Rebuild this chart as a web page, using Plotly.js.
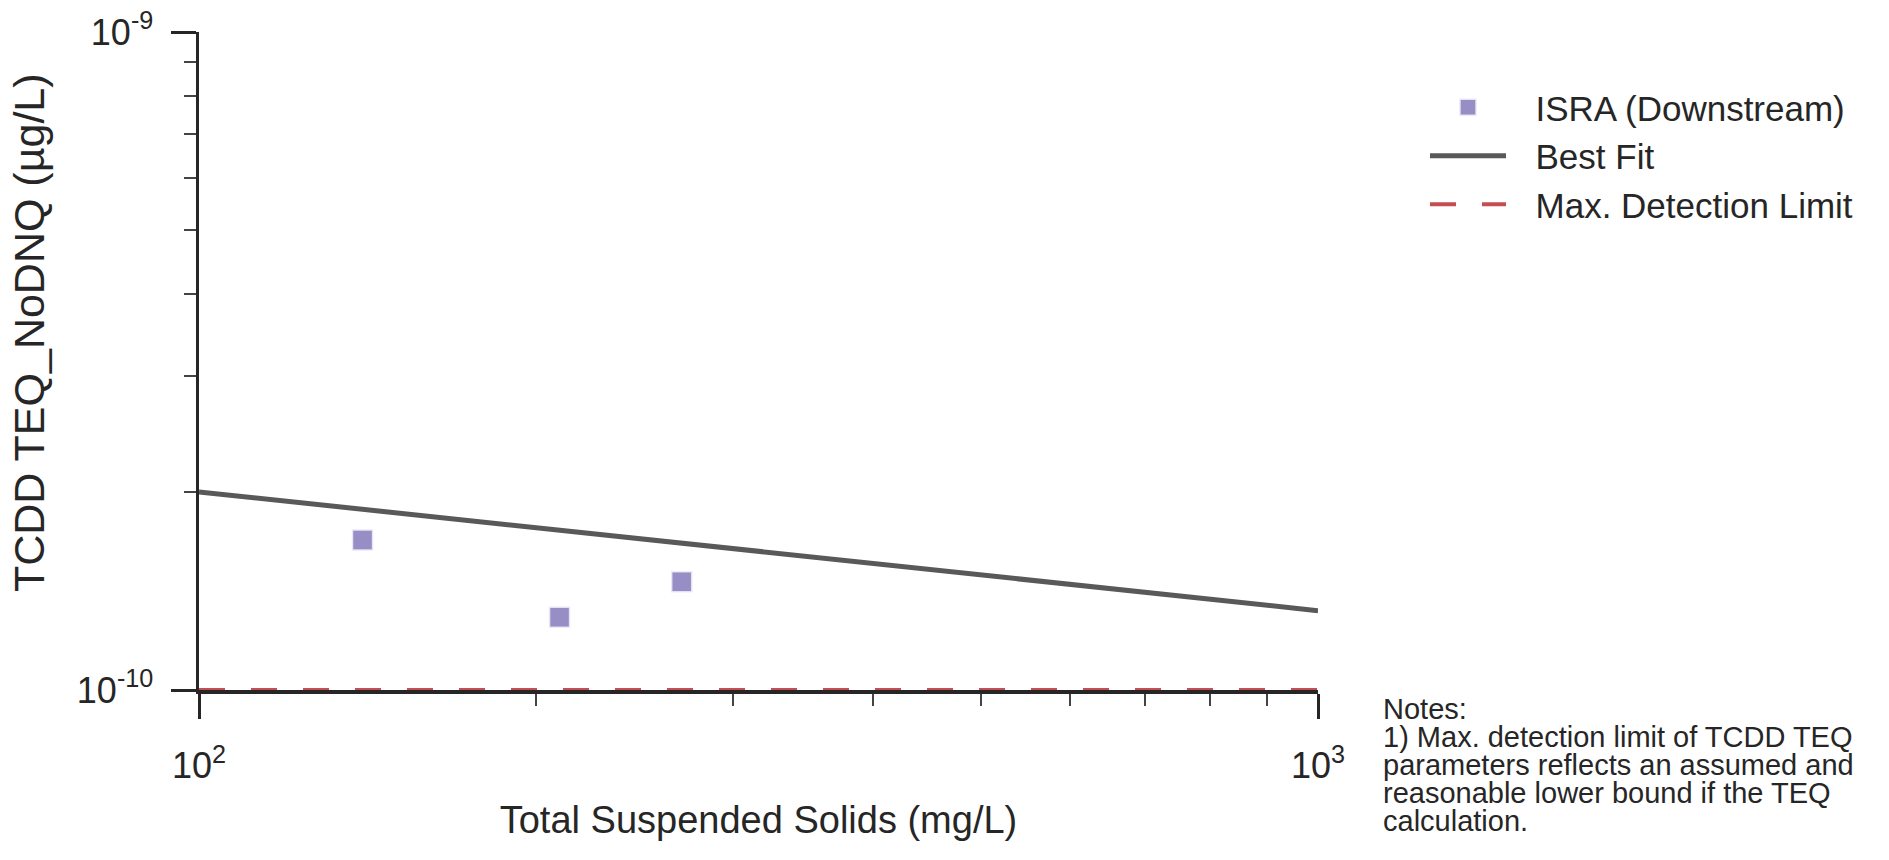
<!DOCTYPE html>
<html>
<head>
<meta charset="utf-8">
<script src="https://cdn.plot.ly/plotly-3.0.1.min.js"></script>
<style>
  html, body { margin: 0; padding: 0; background: #fff; }
  #plot { width: 1889px; height: 860px; }
</style>
</head>
<body>
<div id="plot"></div>
<script>
// samples
const tssDown = [140, 210, 270];
const teqDown = [1.69e-10, 1.29e-10, 1.46e-10];

// best fit line ends
const fitTss = [100, 1000];
const fitTeq = [2.0e-10, 1.32e-10];

// max detection limit
const limitTss = [100, 1000];
const limitTeq = [1e-10, 1e-10];

// ticks
const xMajor = [100, 1000];
const xMajorText = ['10<sup>2</sup>', '10<sup>3</sup>'];
const xMinor = [200, 300, 400, 500, 600, 700, 800, 900];
const yMajor = [1e-10, 1e-9];
const yMajorText = ['10<sup>-10</sup>', '10<sup>-9</sup>'];
const yMinor = [2e-10, 3e-10, 4e-10, 5e-10, 6e-10, 7e-10, 8e-10, 9e-10];

const noteLines = [
  'Notes:',
  '1) Max. detection limit of TCDD TEQ',
  'parameters reflects an assumed and',
  'reasonable lower bound if the TEQ',
  'calculation.'
];

const FONT = 'Arial, "Liberation Sans", sans-serif';
const INK = '#262626';
const GAP = '\u2002\u2009'; // room between legend symbol and label

// plot box in page pixels, used to place the notes and y title
const box = { left: 199, right: 1318, top: 32, bottom: 690 };
const px2x = px => (px - box.left) / (box.right - box.left);
const px2y = py => (box.bottom - py) / (box.bottom - box.top);

const traces = [
  {
    x: tssDown,
    y: teqDown,
    type: 'scatter',
    mode: 'markers',
    name: GAP + 'ISRA (Downstream)',
    marker: {
      symbol: 'square',
      size: 20,
      color: '#968ec4',
      line: { color: 'rgba(235,232,248,0.9)', width: 1.5 }
    }
  },
  {
    x: fitTss,
    y: fitTeq,
    type: 'scatter',
    mode: 'lines',
    name: GAP + 'Best Fit',
    line: { color: '#595959', width: 5 }
  },
  {
    x: limitTss,
    y: limitTeq,
    type: 'scatter',
    mode: 'lines',
    name: GAP + 'Max. Detection Limit',
    line: { color: '#c44e52', width: 4, dash: '26px,26px' }
  }
];

const annotations = noteLines.map((t, i) => ({
  text: t,
  xref: 'paper', yref: 'paper',
  x: px2x(1381), y: px2y(709 + i * 28),
  xanchor: 'left', yanchor: 'middle',
  showarrow: false,
  font: { family: FONT, size: 29, color: INK }
}));

// y title placed by hand, it sits above the axis centre in the reference
annotations.push({
  text: 'TCDD TEQ_NoDNQ (µg/L)',
  xref: 'paper', yref: 'paper',
  x: px2x(29), y: px2y(333),
  xanchor: 'center', yanchor: 'middle',
  textangle: -90,
  showarrow: false,
  font: { family: FONT, size: 43, color: INK }
});

const layout = {
  width: 1889,
  height: 860,
  paper_bgcolor: '#fff',
  plot_bgcolor: '#fff',
  font: { family: FONT, color: INK },
  margin: { l: box.left, r: 1889 - box.right, t: box.top, b: 860 - box.bottom },
  showlegend: true,
  legend: {
    x: px2x(1425), y: px2y(78),
    xanchor: 'left', yanchor: 'top',
    font: { family: FONT, size: 35, color: INK },
    itemwidth: 76,
    bgcolor: 'rgba(0,0,0,0)',
    tracegroupgap: 0
  },
  xaxis: {
    type: 'log',
    range: [2, 3],
    showgrid: false,
    zeroline: false,
    showline: true,
    linecolor: INK,
    linewidth: 3.5,
    ticks: 'outside',
    ticklen: 25,
    tickwidth: 3,
    tickcolor: INK,
    tickmode: 'array',
    tickvals: xMajor,
    ticktext: xMajorText,
    tickfont: { family: FONT, size: 36, color: INK },
    ticklabelstandoff: 16,
    minor: {
      tickmode: 'array',
      tickvals: xMinor,
      ticks: 'outside',
      ticklen: 12,
      tickwidth: 2,
      tickcolor: '#444',
      showgrid: false
    },
    title: {
      text: 'Total Suspended Solids (mg/L)',
      font: { family: FONT, size: 38, color: INK },
      standoff: 22
    }
  },
  yaxis: {
    type: 'log',
    range: [-10, -9],
    showgrid: false,
    zeroline: false,
    showline: true,
    linecolor: INK,
    linewidth: 3.5,
    ticks: 'outside',
    ticklen: 25,
    tickwidth: 3,
    tickcolor: INK,
    tickmode: 'array',
    tickvals: yMajor,
    ticktext: yMajorText,
    tickfont: { family: FONT, size: 36, color: INK },
    ticklabelstandoff: 10,
    minor: {
      tickmode: 'array',
      tickvals: yMinor,
      ticks: 'outside',
      ticklen: 12,
      tickwidth: 2,
      tickcolor: '#444',
      showgrid: false
    }
  },
  annotations: annotations
};

Plotly.newPlot('plot', traces, layout, { displayModeBar: false, staticPlot: true });
</script>
</body>
</html>
